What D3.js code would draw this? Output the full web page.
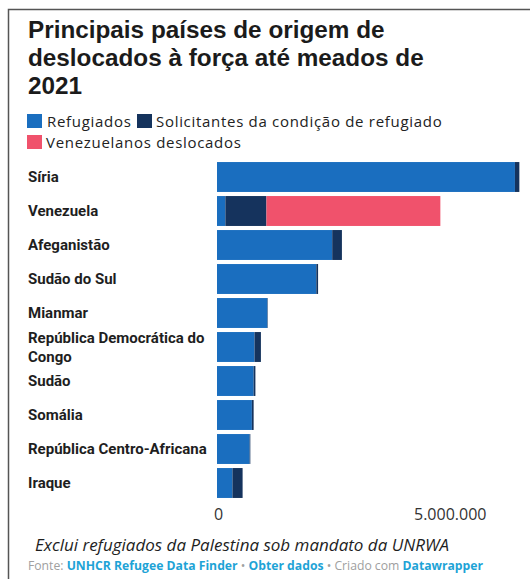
<!DOCTYPE html>
<meta charset="utf-8">
<style>
body { margin: 0; background: #fff; }
.title { font-family: "Liberation Sans", Arial, sans-serif; font-weight: bold; font-size: 24.3px; fill: #1b1b1b; }
.legend text { font-family: "Open Sans", sans-serif; font-size: 15px; letter-spacing: 0.7px; fill: #222; }
.cat { font-family: Roboto, sans-serif; font-weight: bold; font-size: 15px; fill: #1e1e1e; }
.axis text { font-family: "Open Sans", sans-serif; font-size: 16px; fill: #333; }
.note { font-family: "Open Sans", sans-serif; font-style: italic; font-size: 17px; fill: #1e1e1e; }
.source { font-family: "Open Sans", sans-serif; font-size: 12.2px; fill: #a0a0a0; }
.source .lnk { fill: #1ea3d6; font-weight: bold; }
</style>
<body>
<svg width="530" height="579"></svg>
</body>
<script src="https://cdn.jsdelivr.net/npm/d3@7"></script>
<script>
var titleLines = ["Principais países de origem de", "deslocados à força até meados de", "2021"];

var countries = ["Síria", "Venezuela", "Afeganistão", "Sudão do Sul", "Mianmar",
    "República Democrática do Congo", "Sudão", "Somália", "República Centro-Africana", "Iraque"];

var series = ["Refugiados", "Solicitantes da condição de refugiado", "Venezuelanos deslocados"];

// valores (pessoas)
var refugiados   = [6750000, 190000, 2610000, 2250000, 1140000, 850000, 830000, 790000, 740000, 350000];
var solicitantes = [100000, 930000, 220000, 40000, 10000, 145000, 40000, 40000, 15000, 230000];
var venezuelanos = [0, 3940000, 0, 0, 0, 0, 0, 0, 0, 0];

var tickValues = [0, 5000000];

var colors = d3.scaleOrdinal()
    .domain(series)
    .range(["#1a6ebf", "#15335d", "#f0526c"]);

var svg = d3.select("svg");

// moldura
svg.append("path")
    .attr("d", "M8.5,579 V9.5 H530")
    .attr("fill", "none")
    .attr("stroke", "#555")
    .attr("stroke-width", 1.5);

svg.append("g")
    .selectAll("text")
    .data(titleLines)
    .enter().append("text")
    .attr("class", "title")
    .attr("x", 28)
    .attr("y", function(d, i) { return 38 + i * 28; })
    .text(function(d) { return d; });

// legenda
var legend = svg.append("g").attr("class", "legend");
var legendPos = [{x: 27, y: 114}, {x: 137, y: 114}, {x: 27, y: 135}];
series.forEach(function(s, i) {
    var g = legend.append("g")
        .attr("transform", "translate(" + legendPos[i].x + "," + legendPos[i].y + ")");
    g.append("rect")
        .attr("width", 15)
        .attr("height", 14)
        .attr("fill", colors(s));
    g.append("text")
        .attr("x", i == 0 ? 20 : 19)
        .attr("y", 12.5)
        .text(s);
});

var xScale = d3.scaleLinear()
    .domain([0, 5000000])
    .range([217, 437.7]);

var yScale = d3.scaleBand()
    .domain(countries)
    .range([160, 500])
    .paddingInner(0.12)
    .paddingOuter(0.06);

var data = countries.map(function(c, i) {
    return {country: c, "Refugiados": refugiados[i],
        "Solicitantes da condição de refugiado": solicitantes[i],
        "Venezuelanos deslocados": venezuelanos[i]};
});

var stacked = d3.stack().keys(series)(data);

svg.append("g")
    .selectAll("g")
    .data(stacked)
    .enter().append("g")
    .attr("fill", function(d) { return colors(d.key); })
    .selectAll("rect")
    .data(function(d) { return d; })
    .enter().append("rect")
    .attr("x", function(d) { return xScale(d[0]); })
    .attr("y", function(d) { return yScale(d.data.country); })
    .attr("width", function(d) { return Math.max(0, xScale(d[1]) - xScale(d[0])); })
    .attr("height", yScale.bandwidth());

// rótulos das categorias
var catG = svg.append("g");
countries.forEach(function(c) {
    var cy = yScale(c) + yScale.bandwidth() / 2;
    var t = catG.append("text").attr("class", "cat").attr("x", 28);
    if (c == "República Democrática do Congo") {
        t.append("tspan").attr("x", 28).attr("y", cy - 4).text("República Democrática do");
        t.append("tspan").attr("x", 28).attr("y", cy + 15).text("Congo");
    } else {
        t.attr("y", cy + 5).text(c);
    }
});

var locale = d3.formatLocale({decimal: ",", thousands: ".", grouping: [3], currency: ["R$", ""]});

var axis = svg.append("g")
    .attr("class", "axis")
    .attr("transform", "translate(0,500)")
    .call(d3.axisBottom(xScale)
        .tickValues(tickValues)
        .tickSize(0)
        .tickFormat(locale.format(",d")));
axis.select(".domain").remove();
axis.selectAll("text")
    .attr("y", 9)
    .attr("dx", function(d) { return d > 0 ? 12 : 1; });

svg.append("text")
    .attr("class", "note")
    .attr("x", 35)
    .attr("y", 551)
    .text("Exclui refugiados da Palestina sob mandato da UNRWA");

var src = svg.append("text")
    .attr("class", "source")
    .attr("x", 28)
    .attr("y", 570);
src.append("tspan").text("Fonte: ");
src.append("tspan").attr("class", "lnk").text("UNHCR Refugee Data Finder");
src.append("tspan").text(" • ");
src.append("tspan").attr("class", "lnk").text("Obter dados");
src.append("tspan").text(" • Criado com ");
src.append("tspan").attr("class", "lnk").text("Datawrapper");
</script>
